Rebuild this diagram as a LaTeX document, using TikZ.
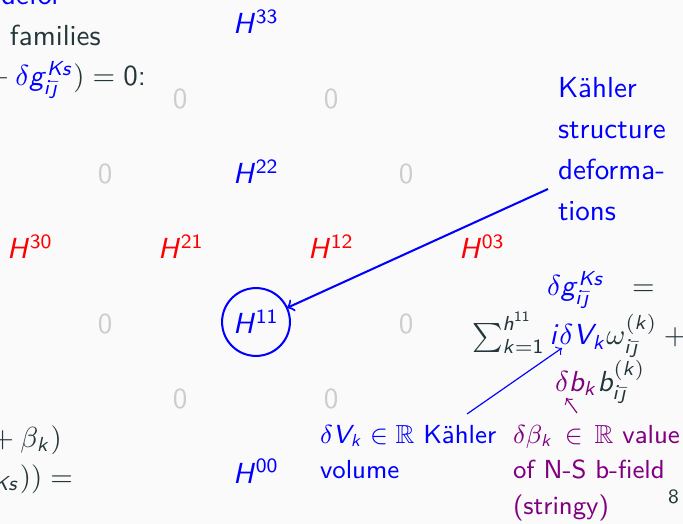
\documentclass[tikz,border=0pt]{standalone}
\usepackage{amssymb}
\usepackage{xcolor}
\renewcommand{\familydefault}{\sfdefault}
\DeclareSymbolFont{sfop}{OT1}{cmss}{m}{n}
\DeclareSymbolFont{sflt}{OT1}{cmss}{m}{sl}
\def\sfletterloop#1{\ifx#1\relax\else\DeclareMathSymbol{#1}{\mathalpha}{sflt}{`#1}\expandafter\sfletterloop\fi}
\sfletterloop abcdefghijklmnopqrstuvwxyzABCDEFGHIJKLMNOPQRSTUVWXYZ\relax
\def\sfdigitloop#1{\ifx#1\relax\else\DeclareMathSymbol{#1}{\mathalpha}{sfop}{`#1}\expandafter\sfdigitloop\fi}
\sfdigitloop 0123456789\relax
\DeclareMathSymbol{\jmath}{\mathord}{sflt}{"11}
\definecolor{bgc}{HTML}{FAFAFA}
\definecolor{mdark}{HTML}{23373B}
\definecolor{zgray}{HTML}{CCCCCC}
\definecolor{mpurple}{RGB}{128,0,128}
\newcommand{\ijb}{i\bar{\jmath}}
\begin{document}
\begin{tikzpicture}[x=0.3448pt,y=-0.3448pt,
  every node/.style={inner sep=0pt,outer sep=0pt,text=mdark},
  lft/.style={anchor=base west},
  ctr/.style={anchor=base},
  hb/.style={text=blue},
  hr/.style={text=red},
  zr/.style={text=zgray},
  bigarrow/.style={draw=blue,line width=0.7pt,->},
  thinblue/.style={draw=blue,line width=0.4pt,->},
  thinpurple/.style={draw=mpurple,line width=0.4pt,->}]
\fill[bgc] (0,0) rectangle (683,524);
\clip (0,0) rectangle (683,524);
% left, cut-off text
\node[lft,hb] (t1) at (1,5) {defor};
\node[lft] (t2) at (10,46) {families};
\node[lft] (t3) at (-20,86) {${}+{\color{blue}\delta g^{Ks}_{\ijb}})=0$:};
\node[lft] (t4) at (-15,447) {${}+\beta_k)$};
\node[lft] (t5) at (-21,486) {$g_{Ks}))={}$};
% Hodge diamond
\node[ctr,hb] (h33) at (256,34) {$H^{33}$};
\node[ctr,zr] (z1) at (180,109) {0};
\node[ctr,zr] (z2) at (331,109) {0};
\node[ctr,zr] (z3) at (105,184) {0};
\node[ctr,hb] (h22) at (256,184) {$H^{22}$};
\node[ctr,zr] (z4) at (406,184) {0};
\node[ctr,hr] (h30) at (30,259) {$H^{30}$};
\node[ctr,hr] (h21) at (181,259) {$H^{21}$};
\node[ctr,hr] (h12) at (331,259) {$H^{12}$};
\node[ctr,hr] (h03) at (482,259) {$H^{03}$};
\node[ctr,zr] (z5) at (105,334) {0};
\node[circle,draw=blue,line width=0.7pt,minimum size=23.4pt,text=blue] (h11) at (256,322) {$H^{11}$};
\node[ctr,zr] (z6) at (406,334) {0};
\node[ctr,zr] (z7) at (180,409) {0};
\node[ctr,zr] (z8) at (331,409) {0};
\node[ctr,hb] (h00) at (256,483) {$H^{00}$};
% right annotations
\node[lft,hb] (kds) at (558,98) {\parbox[t]{50pt}{\raggedright\fontsize{10}{14.1}\selectfont K\"ahler\\structure\\deforma-\\tions}};
\coordinate (kdsarr) at (548,189);
\draw[bigarrow] (kdsarr) -- (h11);
\node[lft] (f1) at (547,296) {$\color{blue}\delta g^{Ks}_{\ijb}$};
\node[lft] (f1eq) at (632,296) {$=$};
\node[lft] (f2) at (472,345) {$\sum_{k=1}^{h^{11}}{\color{blue}i\delta V_k}\omega^{(k)}_{\ijb}+{}$};
\node[lft] (f3) at (555,391) {${\color{mpurple}\delta b_k}b^{(k)}_{\ijb}$};
\node[lft,hb] (lv) at (320,443) {\parbox[t]{70pt}{\raggedright\fontsize{9}{12.2}\selectfont $\delta V_k\in\mathbb{R}$ K\"ahler\\volume}};
\node[lft,text=mpurple] (lb) at (513,443) {\parbox[t]{62pt}{\raggedright\fontsize{9}{12.3}\selectfont $\delta\beta_k\,\in\,\mathbb{R}$ value\\of N-S b-field\\(stringy)}};
\coordinate (lvs) at (467,414);
\coordinate (lvt) at (562,348);
\draw[thinblue] (lvs) -- (lvt);
\coordinate (lbs) at (577,413);
\coordinate (lbt) at (566,398);
\draw[thinpurple] (lbs) -- (lbt);
\node[lft,font=\fontsize{7}{8}\selectfont] (pg) at (668,503) {8};
\end{tikzpicture}
\end{document}
